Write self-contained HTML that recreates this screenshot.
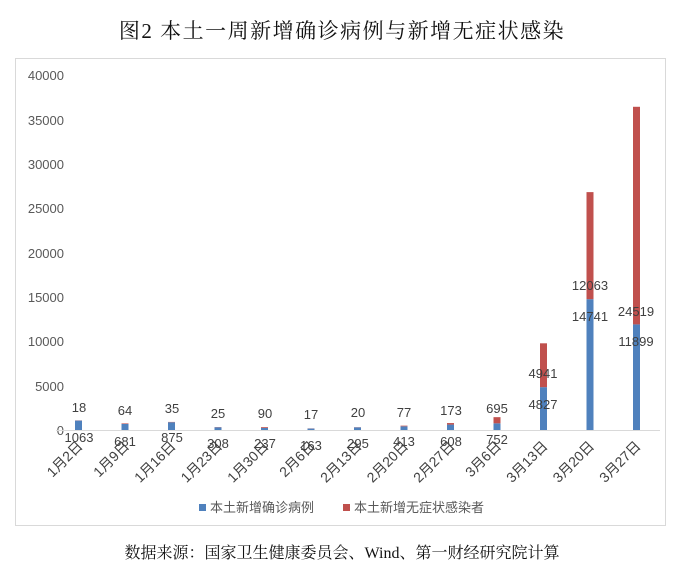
<!DOCTYPE html>
<html><head><meta charset="utf-8"><style>
body{margin:0;background:#fff;width:684px;height:575px;overflow:hidden}
svg text{font-family:"Liberation Sans","Noto Sans CJK SC",sans-serif}
</style></head><body>
<svg width="684" height="575" viewBox="0 0 684 575" xmlns="http://www.w3.org/2000/svg">
<text x="342" y="38" text-anchor="middle" style="font-family:'Liberation Serif','Noto Serif CJK SC',serif" font-size="21" fill="#111" letter-spacing="1.5">图2 本土一周新增确诊病例与新增无症状感染</text>
<rect x="15.5" y="58.5" width="650" height="467" fill="#fff" stroke="#d9d9d9"/>
<g font-size="13" fill="#595959" text-anchor="end">
<text x="64" y="80">40000</text><text x="64" y="125">35000</text><text x="64" y="169">30000</text>
<text x="64" y="213">25000</text><text x="64" y="258">20000</text><text x="64" y="302">15000</text>
<text x="64" y="346">10000</text><text x="64" y="391">5000</text><text x="64" y="435">0</text>
</g>
<line x1="56" y1="430.5" x2="660" y2="430.5" stroke="#d9d9d9"/>
<g id="bars"></g>
<g font-size="13" fill="#404040" text-anchor="middle">
<text x="79" y="412">18</text><text x="79" y="442">1063</text>
<text x="125" y="415">64</text><text x="125" y="446">681</text>
<text x="172" y="413">35</text><text x="172" y="442">875</text>
<text x="218" y="418">25</text><text x="218" y="448">308</text>
<text x="265" y="418">90</text><text x="265" y="448">237</text>
<text x="311" y="419">17</text><text x="311" y="450">163</text>
<text x="358" y="417">20</text><text x="358" y="448">295</text>
<text x="404" y="417">77</text><text x="404" y="446">413</text>
<text x="451" y="415">173</text><text x="451" y="446">608</text>
<text x="497" y="413">695</text><text x="497" y="444">752</text>
<text x="543" y="378">4941</text><text x="543" y="409">4827</text>
<text x="590" y="290">12063</text><text x="590" y="321">14741</text>
<text x="636" y="316">24519</text><text x="636" y="346">11899</text>
</g>
<g font-size="14" fill="#404040" text-anchor="end" id="xl"></g>
<rect x="199" y="504" width="7" height="7" fill="#4f81bd"/>
<text x="210" y="512" font-size="13" fill="#595959">本土新增确诊病例</text>
<rect x="343" y="504" width="7" height="7" fill="#c0504d"/>
<text x="354" y="512" font-size="13" fill="#595959">本土新增无症状感染者</text>
<text x="342" y="558" text-anchor="middle" style="font-family:'Liberation Serif','Noto Serif CJK SC',serif" font-size="16" fill="#111">数据来源：国家卫生健康委员会、Wind、第一财经研究院计算</text>
</svg>
<script>
var b=[1063,681,875,308,237,163,295,413,608,752,4827,14741,11899];
var r=[18,64,35,25,90,17,20,77,173,695,4941,12063,24519];
var L=["1月2日","1月9日","1月16日","1月23日","1月30日","2月6日","2月13日","2月20日","2月27日","3月6日","3月13日","3月20日","3月27日"];
var s=0.008875,g=document.getElementById("bars"),x=document.getElementById("xl"),h="",t="";
for(var i=0;i<13;i++){var c=78.5+i*46.5,hb=b[i]*s,hr=r[i]*s;
h+='<rect x="'+(c-3.5)+'" y="'+(430-hb)+'" width="7" height="'+hb+'" fill="#4f81bd"/>';
h+='<rect x="'+(c-3.5)+'" y="'+(430-hb-hr)+'" width="7" height="'+hr+'" fill="#c0504d"/>';
t+='<text transform="translate('+(c+5)+',447) rotate(-45)">'+L[i]+'</text>';}
g.innerHTML=h;x.innerHTML=t;
</script>
</body></html>
